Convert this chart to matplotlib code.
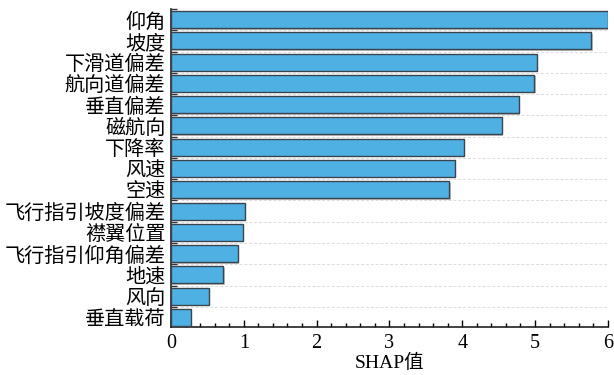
import matplotlib
matplotlib.use("Agg")
import matplotlib.pyplot as plt
import matplotlib.patheffects as pe
import numpy as np
from matplotlib.ticker import MultipleLocator, FixedLocator

# Mean |SHAP| importance per feature, highest first
features = ["仰角", "坡度", "下滑道偏差", "航向道偏差", "垂直偏差", "磁航向", "下降率",
            "风速", "空速", "飞行指引坡度偏差", "襟翼位置", "飞行指引仰角偏差",
            "地速", "风向", "垂直载荷"]
shap_values = [6.00, 5.77, 5.02, 4.99, 4.78, 4.54, 4.02, 3.90, 3.82,
               1.01, 0.99, 0.92, 0.72, 0.52, 0.27]
x_ticks = [0, 1, 2, 3, 4, 5, 6]
x_label = "SHAP值"

fam = ["Liberation Serif", "Noto Sans CJK SC", "DejaVu Sans"]
plt.rcParams["font.family"] = fam

fig = plt.figure(figsize=(6.14, 3.75), dpi=100)
ax = fig.add_axes([0.2785, 0.128, 0.7115, 0.848])

pos = np.arange(len(features))
bars = ax.barh(pos, shap_values, height=0.8, color="#4FB1E3",
               edgecolor="#3a4450", linewidth=1.0, zorder=3)
for b in bars:
    b.set_path_effects([pe.SimplePatchShadow(offset=(1, -1), shadow_rgbFace="#a8a8a8", alpha=0.7),
                        pe.Normal()])

ax.set_ylim(len(features) - 0.55, -0.5)
ax.set_xlim(0, 6)

# category labels at bar centres, tick marks at slot boundaries
ax.set_yticks(pos)
ax.set_yticklabels(features, fontsize=14.5, family=["Noto Sans CJK SC", "DejaVu Sans"])
ax.yaxis.set_minor_locator(FixedLocator(np.arange(-0.5, len(features) - 1, 1.0)))
ax.tick_params(axis="y", which="major", length=0, pad=4)
ax.tick_params(axis="y", which="minor", direction="in", length=4, width=1, color="#333333")

ax.set_xticks(x_ticks)
ax.xaxis.set_minor_locator(MultipleLocator(0.2))
ax.tick_params(axis="x", which="major", direction="in", length=5, width=1, labelsize=14.5, pad=5)
ax.tick_params(axis="x", which="minor", direction="in", length=3, width=1)
for lab in ax.get_xticklabels():
    lab.set_family("Liberation Serif")

# dashed separators between categories
for y in np.arange(0.5, len(features) - 1, 1.0):
    ax.axhline(y, color="#dcdcdc", linestyle=(0, (3, 2)), linewidth=0.7, zorder=1)

ax.set_xlabel(x_label, fontsize=14, labelpad=1)

ax.spines["top"].set_visible(False)
ax.spines["right"].set_visible(False)
ax.spines["left"].set_color("#222222")
ax.spines["bottom"].set_color("#222222")
ax.spines["left"].set_linewidth(1.2)
ax.spines["bottom"].set_linewidth(1.2)

fig.savefig("out.png", dpi=100)
